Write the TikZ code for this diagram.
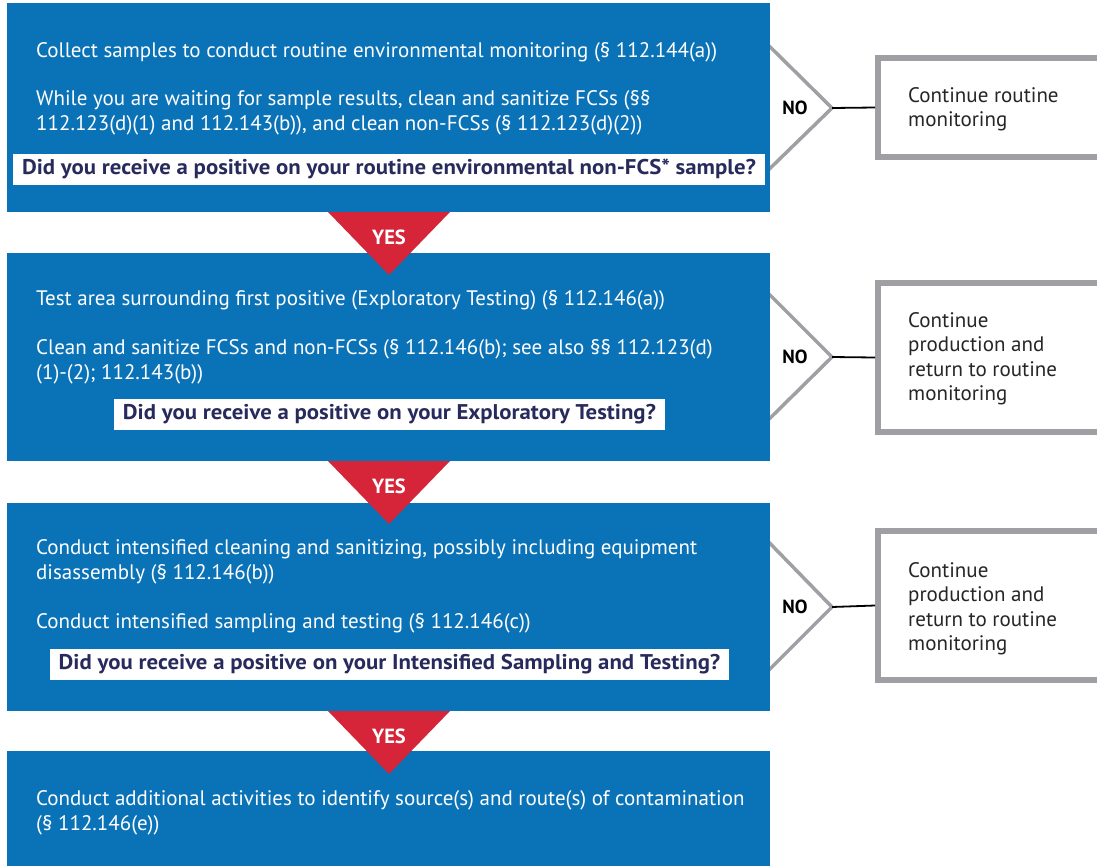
\documentclass[tikz,border=0pt]{standalone}
\usepackage{fontspec}
\setmainfont{PT Sans}
\newfontfamily\qfont[FakeStretch=1.07]{PT Sans}
\definecolor{fdablue}{RGB}{10,114,183}
\definecolor{fdared}{RGB}{214,36,56}
\definecolor{fdagray}{RGB}{160,160,164}
\definecolor{fdanavy}{RGB}{40,42,92}
\begin{document}
\begin{tikzpicture}[x=1pt,y=-1pt,
  bluebox/.style={fill=fdablue, draw=none, minimum width=763pt, inner sep=0pt},
  bodytext/.style={text=white, font=\fontsize{21}{24.5}\selectfont, align=left, anchor=base west, inner sep=0pt},
  question/.style={fill=white, text=fdanavy, font=\qfont\bfseries\fontsize{21.3}{24}\selectfont, inner xsep=9pt, inner ysep=0pt, minimum height=31pt},
  yestri/.style={fill=fdared, draw=none},
  yeslabel/.style={text=white, font=\bfseries\fontsize{20.5}{22}\selectfont, inner sep=0pt},
  notri/.style={fill=white, draw=fdagray, line width=3.5pt, line join=miter},
  nolabel/.style={text=black, font=\bfseries\fontsize{19}{21}\selectfont, inner sep=0pt},
  sidebox/.style={draw=fdagray, line width=6pt, fill=white, minimum width=232pt, inner sep=0pt},
  sidetext/.style={text=black!85, font=\fontsize{21}{24.5}\selectfont, align=left, anchor=west, inner sep=0pt},
  link/.style={draw=black, line width=1.8pt}
]
\useasboundingbox (0,0) rectangle (1097,865);
\clip (0,0) rectangle (1097,865);

% NO triangles (behind blue boxes)
\filldraw[notri] (755,32) -- (832,108) -- (755,183);
\coordinate (n1) at (832,108);
\filldraw[notri] (755,280) -- (832,357) -- (755,433);
\coordinate (n2) at (832,357);
\filldraw[notri] (755,528) -- (832,607) -- (755,684);
\coordinate (n3) at (832,607);

% blue boxes
\node[bluebox, minimum height=209pt] (b1) at (388.5,107.5) {};
\node[bluebox, minimum height=208pt] (b2) at (388.5,357) {};
\node[bluebox, minimum height=208pt] (b3) at (388.5,607) {};
\node[bluebox, minimum height=119pt] (b4) at (388.5,810.5) {};

% YES triangles
\fill[yestri] (328,212) -- (450,212) -- (389,275) -- cycle;
\node[yeslabel] (y1) at (389,237) {YES};
\fill[yestri] (328,461) -- (450,461) -- (389,524) -- cycle;
\node[yeslabel] (y2) at (389,486) {YES};
\fill[yestri] (328,711) -- (450,711) -- (389,774) -- cycle;
\node[yeslabel] (y3) at (389,736) {YES};

% box texts (base anchor = baseline of last line)
\node[bodytext] (t1a) at (36,57) {Collect samples to conduct routine environmental monitoring (§ 112.144(a))};
\node[bodytext] (t1b) at (36,130) {While you are waiting for sample results, clean and sanitize FCSs (§§\\112.123(d)(1) and 112.143(b)), and clean non-FCSs (§ 112.123(d)(2))};
\node[question] (q1) at (389,169) {Did you receive a positive on your routine environmental non-FCS* sample?};

\node[bodytext] (t2a) at (36,305) {Test area surrounding first positive (Exploratory Testing) (§ 112.146(a))};
\node[bodytext] (t2b) at (36,379) {Clean and sanitize FCSs and non-FCSs (§ 112.146(b); see also §§ 112.123(d)\\(1)-(2); 112.143(b))};
\node[question] (q2) at (389.5,414.5) {Did you receive a positive on your Exploratory Testing?};

\node[bodytext] (t3a) at (36,579) {Conduct intensified cleaning and sanitizing, possibly including equipment\\disassembly (§ 112.146(b))};
\node[bodytext] (t3b) at (36,628) {Conduct intensified sampling and testing (§ 112.146(c))};
\node[question] (q3) at (389.5,664) {Did you receive a positive on your Intensified Sampling and Testing?};

\node[bodytext] (t4a) at (36,830) {Conduct additional activities to identify source(s) and route(s) of contamination\\(§ 112.146(e))};

% NO labels
\node[nolabel] (no1) at (795,108) {NO};
\node[nolabel] (no2) at (795,357) {NO};
\node[nolabel] (no3) at (795,607) {NO};

% side boxes
\node[sidebox, minimum height=99pt] (s1) at (994,107.5) {};
\node[sidebox, minimum height=149pt] (s2) at (994,357.5) {};
\node[sidebox, minimum height=149pt] (s3) at (994,605.5) {};
\node[sidetext] (st1) at (908,109) {Continue routine\\monitoring};
\node[sidetext] (st2) at (908,358.5) {Continue\\production and\\return to routine\\monitoring};
\node[sidetext] (st3) at (908,608.5) {Continue\\production and\\return to routine\\monitoring};

% connectors
\draw[link] (n1) -- (s1.west);
\draw[link] (n2) -- (s2.west);
\draw[link] (n3) -- (s3.west);
\end{tikzpicture}
\end{document}
